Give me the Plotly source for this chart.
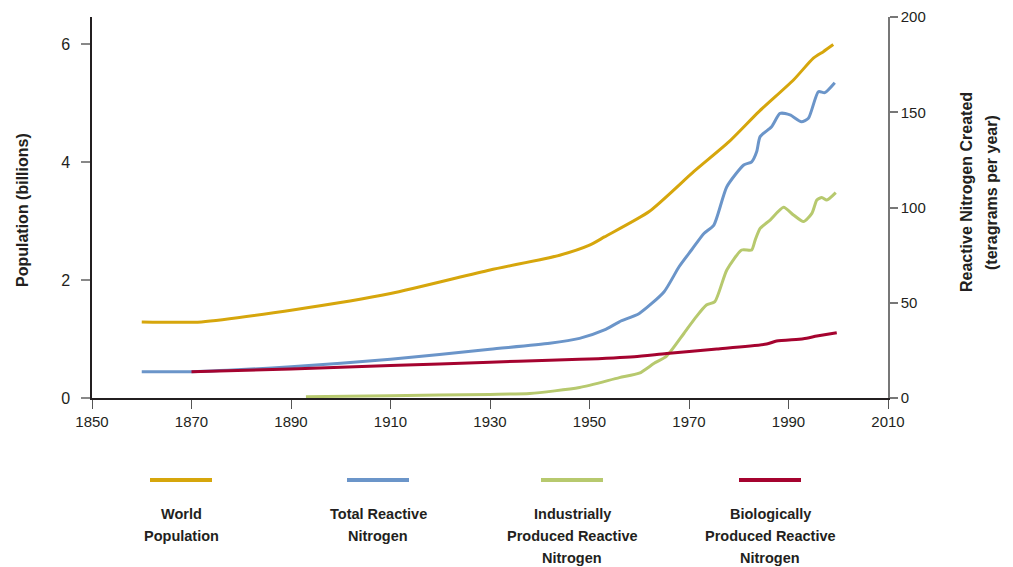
import plotly.graph_objects as go

# ---------------- data ----------------
pop_years = [1860, 1872, 1891, 1910, 1930, 1944, 1950, 1953, 1962, 1971, 1978, 1984, 1991, 1995, 1997, 1999]
pop_billions = [1.29, 1.29, 1.50, 1.77, 2.17, 2.42, 2.59, 2.73, 3.16, 3.84, 4.34, 4.85, 5.39, 5.76, 5.87, 5.99]

tot_years = [1860, 1870, 1890, 1910, 1930, 1942, 1948, 1953, 1956, 1960, 1965, 1968, 1970.5, 1973, 1975,
             1977.6, 1981, 1982.6, 1983.6, 1984.3, 1986.6, 1988.3, 1990.3, 1992.6, 1994, 1996, 1997.3, 1999.3]
tot_tg = [13.8, 13.8, 16.4, 20.3, 25.6, 28.7, 31.3, 35.7, 40.0, 44.4, 55.8, 68.9, 77.7, 86.4, 90.8,
          110.9, 122.3, 124.0, 129.3, 137.2, 142.4, 149.4, 148.6, 145.0, 146.8, 160.8, 160.3, 165.5]

ind_years = [1893, 1910, 1930, 1938, 1948, 1956, 1960, 1963, 1965.5, 1969, 1971.2, 1973.5, 1975.2, 1977.6,
             1980.6, 1982.6, 1983.3, 1984.3, 1986.3, 1989, 1991, 1993, 1994.7, 1995.7, 1996.7, 1997.7, 1999.5]
ind_tg = [0.7, 1.2, 1.9, 2.4, 5.5, 10.7, 13.0, 18.2, 22.0, 34.0, 41.8, 48.8, 50.6, 67.2,
          77.7, 77.7, 82.9, 89.0, 93.4, 100.1, 96.1, 92.6, 96.9, 103.9, 105.3, 103.9, 107.8]

bio_years = [1870, 1890, 1910, 1930, 1942, 1948, 1959, 1965.5, 1975.6, 1985.6, 1987.6, 1993, 1995.7, 1999.7]
bio_tg = [13.8, 15.2, 17.0, 18.8, 19.8, 20.3, 21.7, 23.4, 25.7, 28.3, 29.9, 31.1, 32.5, 34.3]

x_ticks = [1850, 1870, 1890, 1910, 1930, 1950, 1970, 1990, 2010]
left_ticks = [0, 2, 4, 6]
right_ticks = [0, 50, 100, 150, 200]

series_names = [["World", "Population"],
                ["Total Reactive", "Nitrogen"],
                ["Industrially", "Produced Reactive", "Nitrogen"],
                ["Biologically", "Produced Reactive", "Nitrogen"]]
colors = ["#D6A60C", "#6B95C9", "#B7C96E", "#A5032F"]

FONT = "Liberation Sans, Arial, sans-serif"
TXT = "#231F20"

fig = go.Figure()
fig.add_trace(go.Scatter(x=pop_years, y=pop_billions, mode="lines", yaxis="y",
                         line=dict(color=colors[0], width=3, shape="spline", smoothing=0.6)))
fig.add_trace(go.Scatter(x=tot_years, y=tot_tg, mode="lines", yaxis="y2",
                         line=dict(color=colors[1], width=3, shape="spline", smoothing=0.6)))
fig.add_trace(go.Scatter(x=ind_years, y=ind_tg, mode="lines", yaxis="y2",
                         line=dict(color=colors[2], width=3, shape="spline", smoothing=0.6)))
fig.add_trace(go.Scatter(x=bio_years, y=bio_tg, mode="lines", yaxis="y2",
                         line=dict(color=colors[3], width=3, shape="spline", smoothing=0.6)))

# page body adds an 8px offset; compensate so the plot lands where the reference has it
OFF = 8
W, H = 1013 - OFF, 567 - OFF
L, R, T, B = 92 - OFF, 125, 17 - OFF, 169
pw = W - L - R
ph = H - T - B

fig.update_layout(
    width=W, height=H,
    margin=dict(l=L, r=R, t=T, b=B, pad=0, autoexpand=False),
    paper_bgcolor="white", plot_bgcolor="white",
    showlegend=False,
    font=dict(family=FONT, color=TXT, size=15),
    xaxis=dict(range=[1850, 2010], tickvals=x_ticks, showgrid=False, zeroline=False, automargin=False,
               showline=True, linecolor="#231F20", linewidth=2,
               ticks="outside", ticklen=9, tickcolor="#555555", tickwidth=1,
               tickfont=dict(size=15, family=FONT, color=TXT)),
    yaxis=dict(range=[0, 381 / 59], tickvals=left_ticks, showgrid=False, zeroline=False, automargin=False,
               showline=True, linecolor="#231F20", linewidth=1.5,
               ticks="outside", ticklen=9, tickcolor="#888888", tickwidth=1.5,
               ticklabelstandoff=8,
               tickfont=dict(size=16, family=FONT, color=TXT)),
    yaxis2=dict(range=[0, 200], tickvals=right_ticks, overlaying="y", side="right", automargin=False,
                showgrid=False, zeroline=False, showline=True, linecolor="#777777", linewidth=1.5,
                ticks="outside", ticklen=8, tickcolor="#777777", tickwidth=1.5,
                tickfont=dict(size=15, family=FONT, color=TXT)),
)


def px_to_paper_x(px):
    return (px - OFF - L) / pw


def px_to_paper_y(py):
    return (H - B - (py - OFF)) / ph


annotations = [
    dict(text="<b>Population (billions)</b>", textangle=-90, x=px_to_paper_x(22), y=px_to_paper_y(210),
         xanchor="center", yanchor="middle",
         xref="paper", yref="paper", showarrow=False, font=dict(size=16, family=FONT, color=TXT)),
    dict(text="<b>Reactive Nitrogen Created</b>", textangle=-90, x=px_to_paper_x(966), y=px_to_paper_y(192),
         xanchor="center", yanchor="middle",
         xref="paper", yref="paper", showarrow=False, font=dict(size=16, family=FONT, color=TXT)),
    dict(text="<b>(teragrams per year)</b>", textangle=-90, x=px_to_paper_x(991), y=px_to_paper_y(192),
         xanchor="center", yanchor="middle",
         xref="paper", yref="paper", showarrow=False, font=dict(size=16, family=FONT, color=TXT)),
]

shapes = []
legend_centers = [181, 378, 572, 770]
for cx, col, lines in zip(legend_centers, colors, series_names):
    shapes.append(dict(type="line", xref="paper", yref="paper",
                       x0=px_to_paper_x(cx - 31), x1=px_to_paper_x(cx + 31),
                       y0=px_to_paper_y(480), y1=px_to_paper_y(480),
                       line=dict(color=col, width=4)))
    for i, t in enumerate(lines):
        annotations.append(dict(text="<b>" + t + "</b>", x=px_to_paper_x(cx), y=px_to_paper_y(514 + 22 * i),
                                xref="paper", yref="paper", showarrow=False,
                                xanchor="center", yanchor="middle",
                                font=dict(size=14.5, family=FONT, color=TXT)))

fig.update_layout(annotations=annotations, shapes=shapes)
fig.write_html("out.html")
